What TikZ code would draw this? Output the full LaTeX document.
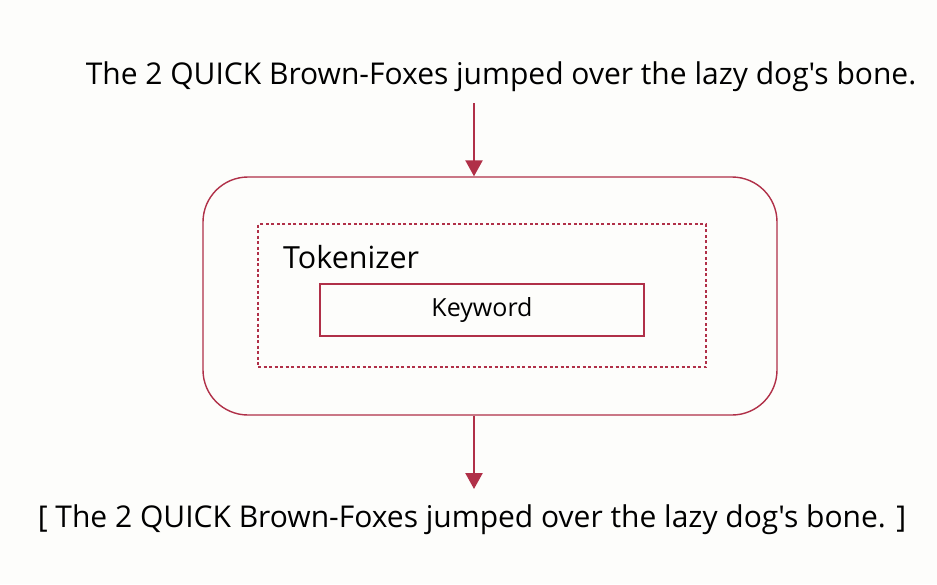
\documentclass[tikz,border=0pt]{standalone}
\usepackage{fontspec}
\setmainfont{Open Sans}[Ligatures=TeXOff]
\usetikzlibrary{arrows.meta}
\definecolor{crim}{RGB}{176,48,72}
\definecolor{bg}{RGB}{253,253,251}
\tikzset{
  flow/.style={draw=crim, line width=2.4pt, -{Triangle[width=17pt,length=16pt]}},
  outerbox/.style={draw=crim, line width=1.4pt, rounded corners=45pt},
  dashbox/.style={draw=crim, line width=1.2pt, dash pattern=on 3pt off 2.5pt},
  kwbox/.style={draw=crim, line width=1.4pt},
  big/.style={font=\fontsize{30}{36}\selectfont, text=black},
  mid/.style={font=\fontsize{30.5}{36}\selectfont, text=black},
  small/.style={font=\fontsize{25}{30}\selectfont, text=black},
}
\begin{document}
\begin{tikzpicture}[x=1pt,y=-1pt]
\fill[bg] (0,0) rectangle (937,584);
\useasboundingbox (0,0) rectangle (937,584);
\node[big, inner sep=0pt] (src) at (501,77) {The 2 QUICK Brown-Foxes jumped over the lazy dog's bone.};
\node[outerbox, minimum width=574pt, minimum height=238pt, inner sep=0pt] (outer) at (490,296) {};
\node[dashbox, minimum width=448pt, minimum height=143pt, inner sep=0pt] (dash) at (482,295.5) {};
\node[kwbox, minimum width=324pt, minimum height=52pt, inner sep=0pt] (kw) at (482,310) {};
\node[small, inner sep=0pt] (kwt) at (kw.center) {Keyword};
\node[mid, inner sep=0pt, anchor=west] (tok) at (283,257) {Tokenizer};
\node[big, inner sep=0pt] (out) at (472,520) {[ The 2 QUICK Brown-Foxes jumped over the lazy dog's bone. ]};
\coordinate (a1s) at (474,103);
\coordinate (a2e) at (474,489);
\draw[flow] (a1s) -- (a1s |- outer.north);
\draw[flow] (a1s |- outer.south) -- (a2e);
\end{tikzpicture}
\end{document}
